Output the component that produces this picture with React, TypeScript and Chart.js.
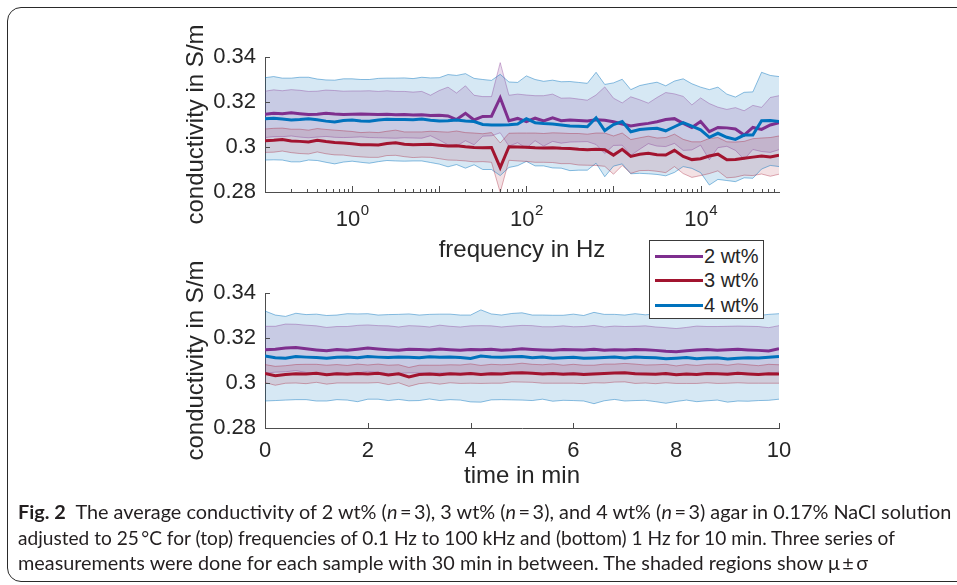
import React, { useEffect, useLayoutEffect, useRef } from 'react';
import { Chart, registerables } from 'chart.js';

Chart.register(...registerables);

const FONT = '"Liberation Sans", Arial, Helvetica, sans-serif';
const TEXT = '#262626';
const AXIS = '#4d4d4d';

// ---------- top panel: frequency sweep ----------
const freqHz = [
  0.1, 0.126, 0.158, 0.2, 0.251, 0.316, 0.398, 0.501, 0.631, 0.794,
  1, 1.26, 1.58, 2, 2.51, 3.16, 3.98, 5.01, 6.31, 7.94,
  10, 12.6, 15.8, 20, 25.1, 31.6, 39.8, 50.1, 63.1, 79.4,
  100, 126, 158, 200, 251, 316, 398, 501, 631, 794,
  1000, 1260, 1580, 2000, 2510, 3160, 3980, 5010, 6310, 7940,
  10000, 12600, 15800, 20000, 25100, 31600, 39800, 50100, 63100, 79400,
];
const freqMean2 = [
  0.3145, 0.3150, 0.3148, 0.3152, 0.3148, 0.3144, 0.3146, 0.3150, 0.3147, 0.3145,
  0.3146, 0.3147, 0.3146, 0.3144, 0.3145, 0.3143, 0.3144, 0.3142, 0.3143, 0.3140,
  0.3141, 0.3138, 0.3122, 0.3150, 0.3120, 0.3136, 0.3137, 0.3219, 0.3117, 0.3127,
  0.3113, 0.3128, 0.3116, 0.3130, 0.3117, 0.3120, 0.3118, 0.3116, 0.3121, 0.3119,
  0.3112, 0.3102, 0.3093, 0.3100, 0.3105, 0.3112, 0.3122, 0.3126, 0.3105, 0.3087,
  0.3113, 0.3068, 0.3087, 0.3085, 0.3080, 0.3053, 0.3087, 0.3078, 0.3098, 0.3108,
];
const freqSd2 = [
  0.0103, 0.0104, 0.0102, 0.0103, 0.0104, 0.0103, 0.0102, 0.0103, 0.0104, 0.0103,
  0.0103, 0.0102, 0.0104, 0.0103, 0.0105, 0.0104, 0.0103, 0.0102, 0.0104, 0.0090,
  0.0110, 0.0128, 0.0118, 0.0122, 0.0110, 0.0088, 0.0087, 0.0156, 0.0113, 0.0108,
  0.0118, 0.0100, 0.0112, 0.0105, 0.0100, 0.0098, 0.0095, 0.0092, 0.0110, 0.0148,
  0.0105, 0.0094, 0.0130, 0.0110, 0.0090, 0.0108, 0.0120, 0.0110, 0.0120, 0.0100,
  0.0105, 0.0125, 0.0090, 0.0082, 0.0095, 0.0108, 0.0098, 0.0098, 0.0122, 0.0120,
];
const freqMean3 = [
  0.3028, 0.3030, 0.3033, 0.3027, 0.3025, 0.3022, 0.3030, 0.3024, 0.3020, 0.3018,
  0.3014, 0.3010, 0.3010, 0.3009, 0.3016, 0.3019, 0.3012, 0.3010, 0.3011, 0.3012,
  0.3008, 0.3004, 0.3006, 0.3001, 0.2998, 0.2997, 0.2998, 0.2908, 0.3001, 0.3000,
  0.2999, 0.2997, 0.2996, 0.2997, 0.2994, 0.2993, 0.2990, 0.2988, 0.2990, 0.2988,
  0.2964, 0.2990, 0.2958, 0.2968, 0.2972, 0.2966, 0.2964, 0.2985, 0.2958, 0.2944,
  0.2948, 0.2960, 0.2968, 0.2943, 0.2944, 0.2950, 0.2955, 0.2960, 0.2956, 0.2964,
];
const freqSd3 = [
  0.0052, 0.0053, 0.0051, 0.0052, 0.0054, 0.0053, 0.0052, 0.0054, 0.0055, 0.0054,
  0.0055, 0.0054, 0.0056, 0.0055, 0.0054, 0.0056, 0.0055, 0.0057, 0.0056, 0.0058,
  0.0060, 0.0062, 0.0065, 0.0063, 0.0064, 0.0062, 0.0066, 0.0110, 0.0060, 0.0062,
  0.0063, 0.0065, 0.0064, 0.0066, 0.0068, 0.0067, 0.0070, 0.0069, 0.0072, 0.0074,
  0.0085, 0.0072, 0.0075, 0.0073, 0.0076, 0.0074, 0.0078, 0.0072, 0.0076, 0.0079,
  0.0075, 0.0078, 0.0074, 0.0080, 0.0078, 0.0075, 0.0082, 0.0080, 0.0086, 0.0085,
];
const freqMean4 = [
  0.3125, 0.3128, 0.3124, 0.3120, 0.3122, 0.3126, 0.3121, 0.3115, 0.3111, 0.3118,
  0.3120, 0.3116, 0.3114, 0.3120, 0.3123, 0.3122, 0.3122, 0.3121, 0.3124, 0.3119,
  0.3116, 0.3117, 0.3120, 0.3116, 0.3113, 0.3100, 0.3098, 0.3098, 0.3099, 0.3102,
  0.3126, 0.3108, 0.3104, 0.3102, 0.3098, 0.3093, 0.3092, 0.3090, 0.3130, 0.3073,
  0.3100, 0.3113, 0.3068, 0.3078, 0.3081, 0.3083, 0.3072, 0.3090, 0.3108, 0.3093,
  0.3076, 0.3043, 0.3061, 0.3043, 0.3034, 0.3053, 0.3053, 0.3117, 0.3118, 0.3113,
];
const freqSd4 = [
  0.0183, 0.0185, 0.0182, 0.0186, 0.0188, 0.0184, 0.0181, 0.0183, 0.0186, 0.0185,
  0.0183, 0.0184, 0.0186, 0.0185, 0.0183, 0.0184, 0.0185, 0.0183, 0.0186, 0.0188,
  0.0192, 0.0205, 0.0198, 0.0210, 0.0192, 0.0200, 0.0198, 0.0225, 0.0190, 0.0185,
  0.0190, 0.0192, 0.0188, 0.0195, 0.0192, 0.0198, 0.0195, 0.0193, 0.0202, 0.0205,
  0.0185, 0.0188, 0.0187, 0.0195, 0.0200, 0.0205, 0.0200, 0.0203, 0.0195, 0.0188,
  0.0190, 0.0212, 0.0205, 0.0192, 0.0188, 0.0190, 0.0192, 0.0215, 0.0200, 0.0200,
];
const freqLabelValues = [1, 100, 10000];
const freqLabelExponents = ['0', '2', '4'];

// ---------- bottom panel: 1 Hz over 10 min ----------
const timeMin = [
  0, 0.2, 0.4, 0.6, 0.8, 1, 1.2, 1.4, 1.6, 1.8,
  2, 2.2, 2.4, 2.6, 2.8, 3, 3.2, 3.4, 3.6, 3.8,
  4, 4.2, 4.4, 4.6, 4.8, 5, 5.2, 5.4, 5.6, 5.8,
  6, 6.2, 6.4, 6.6, 6.8, 7, 7.2, 7.4, 7.6, 7.8,
  8, 8.2, 8.4, 8.6, 8.8, 9, 9.2, 9.4, 9.6, 9.8, 10,
];
const timeMean2 = [
  0.3148, 0.3150, 0.3156, 0.3158, 0.3152, 0.3147, 0.3143, 0.3149, 0.3146, 0.3150,
  0.3155, 0.3151, 0.3148, 0.3146, 0.3150, 0.3149, 0.3147, 0.3151, 0.3148, 0.3146,
  0.3149, 0.3148, 0.3150, 0.3146, 0.3148, 0.3152, 0.3149, 0.3147, 0.3146, 0.3149,
  0.3148, 0.3147, 0.3150, 0.3146, 0.3148, 0.3147, 0.3149, 0.3148, 0.3145, 0.3141,
  0.3139, 0.3143, 0.3147, 0.3149, 0.3146, 0.3148, 0.3150, 0.3147, 0.3145, 0.3142, 0.3152,
];
const timeSd2 = [
  0.0104, 0.0102, 0.0106, 0.0103, 0.0105, 0.0107, 0.0104, 0.0102, 0.0105, 0.0106,
  0.0103, 0.0104, 0.0106, 0.0103, 0.0105, 0.0104, 0.0102, 0.0106, 0.0104, 0.0103,
  0.0105, 0.0107, 0.0104, 0.0103, 0.0105, 0.0104, 0.0106, 0.0103, 0.0104, 0.0105,
  0.0102, 0.0104, 0.0106, 0.0103, 0.0105, 0.0104, 0.0103, 0.0106, 0.0104, 0.0105,
  0.0103, 0.0104, 0.0106, 0.0102, 0.0105, 0.0104, 0.0103, 0.0105, 0.0106, 0.0104, 0.0103,
];
const timeMean3 = [
  0.3042, 0.3032, 0.3038, 0.3041, 0.3040, 0.3043, 0.3037, 0.3041, 0.3039, 0.3042,
  0.3040, 0.3043, 0.3036, 0.3041, 0.3027, 0.3038, 0.3040, 0.3037, 0.3041, 0.3039,
  0.3042, 0.3038, 0.3041, 0.3040, 0.3044, 0.3046, 0.3043, 0.3040, 0.3042, 0.3039,
  0.3041, 0.3038, 0.3040, 0.3042, 0.3044, 0.3046, 0.3041, 0.3040, 0.3039, 0.3042,
  0.3037, 0.3040, 0.3038, 0.3042, 0.3041, 0.3039, 0.3043, 0.3040, 0.3038, 0.3041, 0.3040,
];
const timeSd3 = [
  0.0040, 0.0042, 0.0039, 0.0041, 0.0043, 0.0040, 0.0042, 0.0041, 0.0039, 0.0042,
  0.0040, 0.0041, 0.0043, 0.0040, 0.0042, 0.0041, 0.0039, 0.0042, 0.0040, 0.0041,
  0.0043, 0.0040, 0.0042, 0.0041, 0.0039, 0.0042, 0.0040, 0.0041, 0.0043, 0.0040,
  0.0042, 0.0041, 0.0039, 0.0042, 0.0040, 0.0041, 0.0043, 0.0040, 0.0042, 0.0041,
  0.0039, 0.0042, 0.0040, 0.0041, 0.0043, 0.0040, 0.0042, 0.0041, 0.0039, 0.0042, 0.0041,
];
const timeMean4 = [
  0.3120, 0.3112, 0.3110, 0.3118, 0.3115, 0.3113, 0.3110, 0.3114, 0.3116, 0.3112,
  0.3118, 0.3115, 0.3113, 0.3116, 0.3114, 0.3112, 0.3117, 0.3114, 0.3116, 0.3113,
  0.3109, 0.3120, 0.3116, 0.3114, 0.3117, 0.3118, 0.3112, 0.3115, 0.3110, 0.3112,
  0.3114, 0.3110, 0.3111, 0.3113, 0.3116, 0.3111, 0.3115, 0.3113, 0.3112, 0.3108,
  0.3110, 0.3113, 0.3108, 0.3111, 0.3112, 0.3107, 0.3110, 0.3112, 0.3111, 0.3114, 0.3118,
];
const timeSd4 = [
  0.0200, 0.0190, 0.0186, 0.0192, 0.0189, 0.0193, 0.0190, 0.0188, 0.0192, 0.0195,
  0.0190, 0.0187, 0.0191, 0.0189, 0.0193, 0.0190, 0.0188, 0.0192, 0.0190, 0.0189,
  0.0193, 0.0205, 0.0191, 0.0188, 0.0192, 0.0194, 0.0190, 0.0187, 0.0191, 0.0189,
  0.0192, 0.0190, 0.0203, 0.0192, 0.0189, 0.0191, 0.0193, 0.0190, 0.0195, 0.0198,
  0.0192, 0.0189, 0.0191, 0.0190, 0.0188, 0.0192, 0.0190, 0.0193, 0.0189, 0.0191, 0.0190,
];
const timeTickValues = [0, 2, 4, 6, 8, 10];

// ---------- shared ----------
const yTickValues = [0.28, 0.3, 0.32, 0.34];
const yMin = 0.28;
const yMax = 0.34;
const yTitle = 'conductivity in S/m';
const seriesNames = ['2 wt%', '3 wt%', '4 wt%'];
const seriesLine = ['#7E2F8E', '#A2142F', '#0072BD'];
const seriesFill = ['rgba(126,47,142,0.16)', 'rgba(162,20,47,0.13)', 'rgba(0,114,189,0.16)'];
const seriesEdge = ['rgba(126,47,142,0.35)', 'rgba(162,20,47,0.35)', 'rgba(0,114,189,0.45)'];

function buildDatasets(xs: number[], means: number[][], sds: number[][]) {
  const pts = (s: number, k: number) => xs.map((x, i) => ({ x, y: means[s][i] + k * sds[s][i] }));
  const lines = [2, 1, 0].map((s) => ({
    label: seriesNames[s],
    data: pts(s, 0),
    borderColor: seriesLine[s],
    borderWidth: 3,
    pointRadius: 0,
    fill: false,
    tension: 0,
  }));
  const bands: any[] = [];
  for (const s of [1, 0, 2]) {
    bands.push({
      label: seriesNames[s] + ' lo',
      data: pts(s, -1),
      borderColor: seriesEdge[s],
      borderWidth: 1,
      pointRadius: 0,
      fill: false,
      tension: 0,
    });
    bands.push({
      label: seriesNames[s] + ' hi',
      data: pts(s, 1),
      borderColor: seriesEdge[s],
      backgroundColor: seriesFill[s],
      borderWidth: 1,
      pointRadius: 0,
      fill: '-1',
      tension: 0,
    });
  }
  return [...lines, ...bands];
}

function yScale() {
  return {
    type: 'linear',
    min: yMin,
    max: yMax,
    afterBuildTicks: (scale: any) => {
      scale.ticks = yTickValues.map((v) => ({ value: v }));
    },
    afterFit: (scale: any) => {
      scale.width = 83;
    },
    grid: { display: false, drawTicks: false },
    border: { display: true, color: AXIS, width: 1 },
    ticks: {
      padding: 9,
      color: TEXT,
      font: { family: FONT, size: 22 },
      callback: (v: any) => String(Number(Number(v).toFixed(2))),
    },
    title: {
      display: true,
      text: yTitle,
      color: TEXT,
      font: { family: FONT, size: 24 },
      padding: 0,
    },
  };
}

function innerTicks(xTicks: () => { v: number; len: number }[]) {
  return {
    id: 'innerTicks',
    afterDraw(chart: any) {
      const { ctx, chartArea } = chart;
      const xs = chart.scales.x;
      const ys = chart.scales.y;
      ctx.save();
      ctx.strokeStyle = AXIS;
      ctx.lineWidth = 1;
      ctx.beginPath();
      for (const t of xTicks()) {
        const px = Math.round(xs.getPixelForValue(t.v)) + 0.5;
        ctx.moveTo(px, chartArea.bottom);
        ctx.lineTo(px, chartArea.bottom - t.len);
      }
      for (const v of yTickValues) {
        const py = Math.round(ys.getPixelForValue(v)) + 0.5;
        ctx.moveTo(chartArea.left, py);
        ctx.lineTo(chartArea.left + 5, py);
      }
      ctx.stroke();
      ctx.restore();
    },
  };
}

const logTickPositions = () => {
  const out: { v: number; len: number }[] = [];
  const lo = freqHz[0];
  const hi = freqHz[freqHz.length - 1];
  for (let e = -1; e <= 5; e++) {
    for (let m = 1; m <= 9; m++) {
      const v = m * Math.pow(10, e);
      if (v >= lo * 0.999 && v <= hi * 1.001) out.push({ v, len: m === 1 ? 6 : 3 });
    }
  }
  return out;
};

const powerLabels = {
  id: 'powerLabels',
  afterDraw(chart: any) {
    const { ctx, chartArea } = chart;
    const xs = chart.scales.x;
    const base = chartArea.bottom + 34;
    ctx.save();
    ctx.fillStyle = TEXT;
    ctx.textBaseline = 'alphabetic';
    ctx.textAlign = 'left';
    freqLabelValues.forEach((v, i) => {
      const px = xs.getPixelForValue(v);
      ctx.font = `22px ${FONT}`;
      const w1 = ctx.measureText('10').width;
      ctx.font = `15px ${FONT}`;
      const w2 = ctx.measureText(freqLabelExponents[i]).width;
      const x0 = px - (w1 + w2) / 2;
      ctx.font = `22px ${FONT}`;
      ctx.fillText('10', x0, base);
      ctx.font = `15px ${FONT}`;
      ctx.fillText(freqLabelExponents[i], x0 + w1 + 0.5, base - 11);
    });
    ctx.restore();
  },
};

const captionTargets = [933, 877, 850];

export default function App() {
  const topRef = useRef<HTMLCanvasElement>(null);
  const botRef = useRef<HTMLCanvasElement>(null);
  const cap0 = useRef<HTMLSpanElement>(null);
  const cap1 = useRef<HTMLSpanElement>(null);
  const cap2 = useRef<HTMLSpanElement>(null);

  useEffect(() => {
    const common = {
      animation: false as const,
      responsive: false,
      maintainAspectRatio: false,
      events: [] as any[],
      plugins: {
        legend: { display: false },
        tooltip: { enabled: false },
        filler: { drawTime: 'beforeDatasetsDraw' },
      },
    };
    const top = new Chart(topRef.current as HTMLCanvasElement, {
      type: 'line',
      data: {
        datasets: buildDatasets(freqHz, [freqMean2, freqMean3, freqMean4], [freqSd2, freqSd3, freqSd4]) as any,
      },
      options: {
        ...common,
        layout: { padding: { left: 182, right: 178, top: 57, bottom: 0 } },
        scales: {
          x: {
            type: 'logarithmic',
            min: freqHz[0],
            max: freqHz[freqHz.length - 1],
            afterFit: (scale: any) => {
              scale.height = 73;
            },
            grid: { display: false, drawTicks: false },
            border: { display: true, color: AXIS, width: 1 },
            ticks: { display: false },
            title: {
              display: true,
              text: 'frequency in Hz',
              color: TEXT,
              font: { family: FONT, size: 24 },
              padding: 0,
            },
          },
          y: yScale(),
        },
      } as any,
      plugins: [innerTicks(logTickPositions), powerLabels],
    });
    const bot = new Chart(botRef.current as HTMLCanvasElement, {
      type: 'line',
      data: {
        datasets: buildDatasets(timeMin, [timeMean2, timeMean3, timeMean4], [timeSd2, timeSd3, timeSd4]) as any,
      },
      options: {
        ...common,
        layout: { padding: { left: 182, right: 178, top: 58, bottom: 0 } },
        scales: {
          x: {
            type: 'linear',
            min: timeTickValues[0],
            max: timeTickValues[timeTickValues.length - 1],
            afterBuildTicks: (scale: any) => {
              scale.ticks = timeTickValues.map((v) => ({ value: v }));
            },
            afterFit: (scale: any) => {
              scale.height = 63;
            },
            grid: { display: false, drawTicks: false },
            border: { display: true, color: AXIS, width: 1 },
            ticks: {
              padding: 10,
              color: TEXT,
              font: { family: FONT, size: 22 },
              maxRotation: 0,
              autoSkip: false,
            },
            title: {
              display: true,
              text: 'time in min',
              color: TEXT,
              font: { family: FONT, size: 24 },
              padding: 0,
            },
          },
          y: yScale(),
        },
      } as any,
      plugins: [innerTicks(() => timeTickValues.map((v) => ({ v, len: 5 })))],
    });
    return () => {
      top.destroy();
      bot.destroy();
    };
  }, []);

  useLayoutEffect(() => {
    const fit = () => {
      [cap0, cap1, cap2].forEach((r, i) => {
        const el = r.current;
        if (!el) return;
        el.style.transform = 'none';
        const w = el.offsetWidth;
        if (w > 0) el.style.transform = `scaleX(${captionTargets[i] / w})`;
      });
    };
    fit();
    if ((document as any).fonts && (document as any).fonts.ready) {
      (document as any).fonts.ready.then(fit);
    }
  }, []);

  const capLine: React.CSSProperties = {
    position: 'absolute',
    left: 18,
    whiteSpace: 'pre',
    display: 'inline-block',
    transformOrigin: '0 0',
    fontFamily: 'Lato, "Open Sans", "Noto Sans", sans-serif',
    fontSize: 18.5,
    lineHeight: '24px',
    color: '#231f20',
  };
  const legendRow: React.CSSProperties = {
    display: 'flex',
    alignItems: 'center',
    height: 24.5,
  };
  const legendLine = (c: string): React.CSSProperties => ({
    width: 48,
    height: 3,
    background: c,
    marginLeft: 5,
    marginRight: 1,
  });

  return (
    <div
      style={{
        position: 'fixed',
        left: 0,
        top: 0,
        width: 957,
        height: 585,
        overflow: 'hidden',
        background: '#ffffff',
      }}
    >
      <div
        style={{
          position: 'absolute',
          left: 7,
          top: 7,
          width: 1100,
          height: 575,
          border: '1.5px solid #2a2a2a',
          borderRadius: 14,
          boxSizing: 'border-box',
        }}
      />
      <canvas ref={topRef} width={957} height={265} style={{ position: 'absolute', left: 0, top: 0 }} />
      <canvas ref={botRef} width={957} height={256} style={{ position: 'absolute', left: 0, top: 235 }} />
      <div
        style={{
          position: 'absolute',
          left: 649,
          top: 240,
          width: 115,
          height: 79,
          boxSizing: 'border-box',
          border: '1px solid #3a3a3a',
          background: '#ffffff',
          paddingTop: 3,
          fontFamily: FONT,
          fontSize: 20,
          color: TEXT,
        }}
      >
        {seriesNames.map((n, i) => (
          <div key={n} style={legendRow}>
            <div style={legendLine(seriesLine[i])} />
            <span>{n}</span>
          </div>
        ))}
      </div>
      <span ref={cap0} style={{ ...capLine, top: 500 }}>
        <b>Fig. 2</b>
        {'  The average conductivity of 2 wt% ('}
        <i>n</i>
        {'\u2009=\u20093), 3 wt% ('}
        <i>n</i>
        {'\u2009=\u20093), and 4 wt% ('}
        <i>n</i>
        {'\u2009=\u20093) agar in 0.17% NaCl solution'}
      </span>
      <span ref={cap1} style={{ ...capLine, top: 526 }}>
        {'adjusted to 25\u2009\u00B0C for (top) frequencies of 0.1 Hz to 100 kHz and (bottom) 1 Hz for 10 min. Three series of'}
      </span>
      <span ref={cap2} style={{ ...capLine, top: 551 }}>
        {'measurements were done for each sample with 30 min in between. The shaded regions show \u03BC\u2009\u00B1\u2009\u03C3'}
      </span>
    </div>
  );
}
